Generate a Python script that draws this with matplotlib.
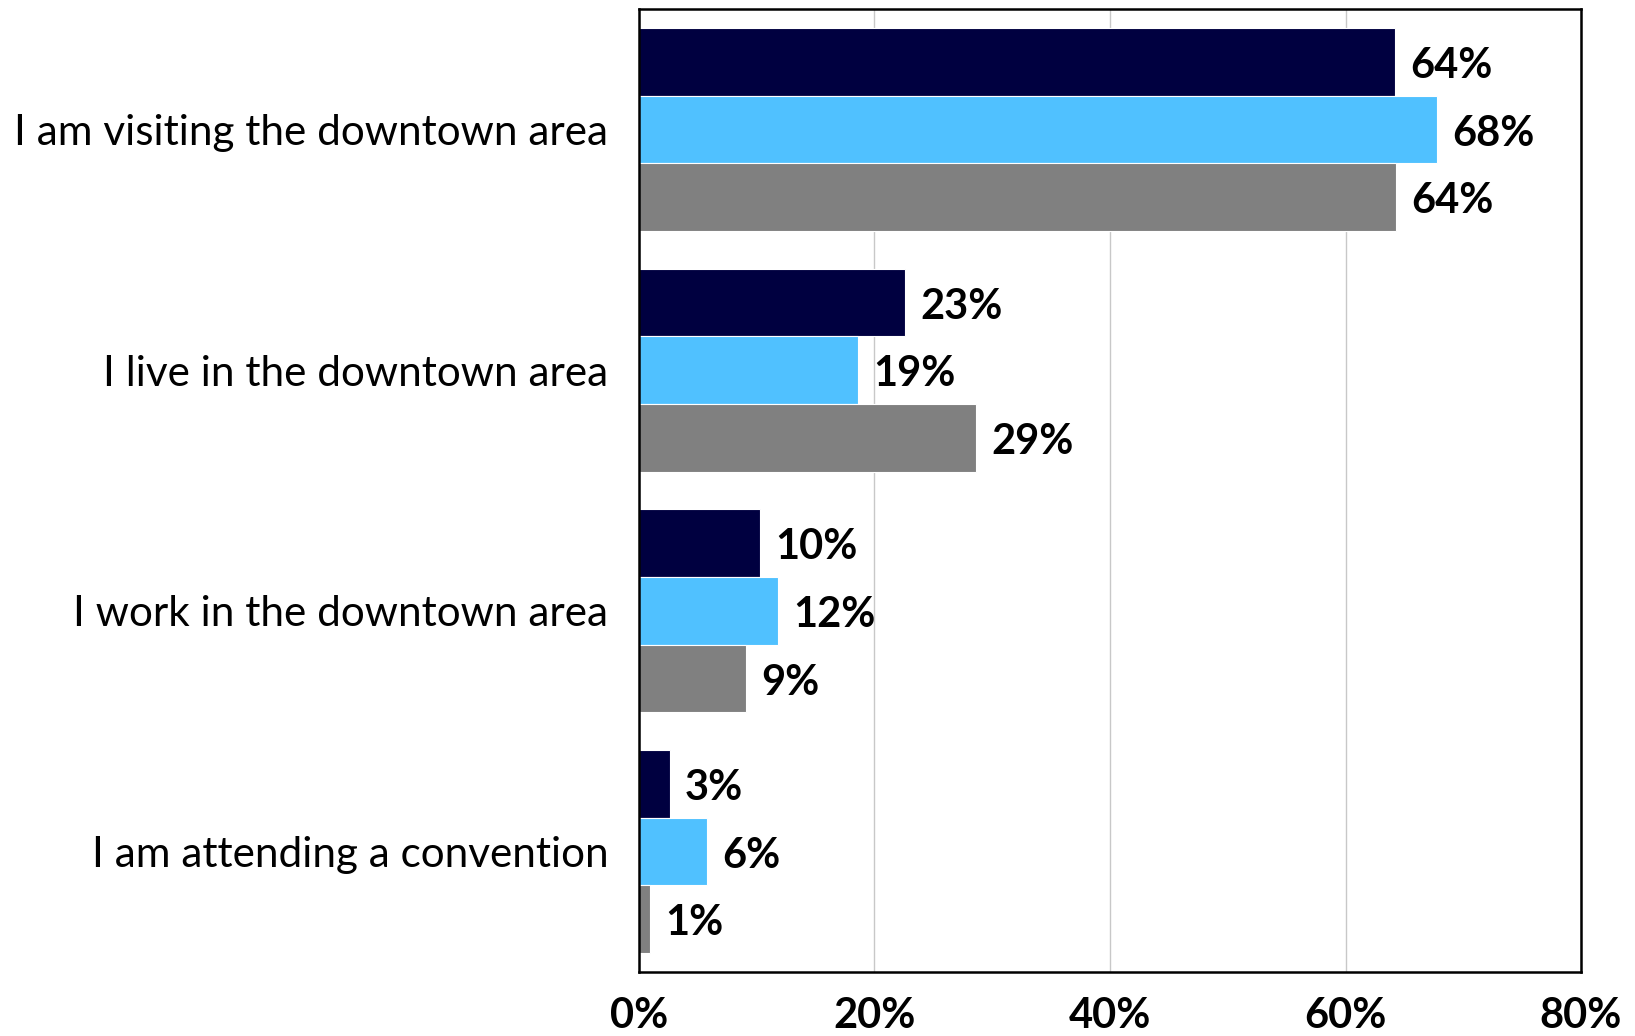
"""Horizontal grouped bar chart: reasons for being downtown."""
import matplotlib
matplotlib.use('Agg')
import matplotlib.pyplot as plt
import numpy as np

plt.rcParams['font.family'] = ['Lato', 'DejaVu Sans']

categories = [
    'I am visiting the downtown area',
    'I live in the downtown area',
    'I work in the downtown area',
    'I am attending a convention',
]
series_a = [64.2, 22.6, 10.3, 2.6]
series_b = [67.8, 18.6, 11.8, 5.8]
series_c = [64.3, 28.6, 9.1, 0.9]
colors = ['#000040', '#50C1FF', '#808080']
xticks = [0, 20, 40, 60, 80]

fig = plt.figure(figsize=(16.35, 10.36), dpi=100)
ax = fig.add_axes([0.3908, 0.0618, 0.967 - 0.3908, 0.9913 - 0.0618])

y = np.arange(len(categories))
h = 0.281
for i, (vals, col) in enumerate(zip([series_a, series_b, series_c], colors)):
    pos = y + (i - 1) * h
    ax.barh(pos, vals, height=h, color=col, edgecolor='white', linewidth=0.8, zorder=3)
    for p, v in zip(pos, vals):
        ax.annotate(f'{v:.0f}%', xy=(v, p), xytext=(11, -3), textcoords='offset points',
                    ha='left', va='center', fontsize=30, fontweight='bold', color='black')

ax.set_xlim(0, 80)
ax.set_ylim(len(categories) - 0.5, -0.5)
ax.set_xticks(xticks)
ax.set_xticklabels([f'{t}%' for t in xticks], fontsize=30, fontweight='bold')
ax.set_yticks(y)
ax.set_yticklabels(categories, fontsize=30.4)
ax.tick_params(axis='x', length=0, pad=18)
ax.tick_params(axis='y', length=0, pad=22)
ax.xaxis.grid(True, color='#c8c8c8', lw=1.0, zorder=0)
for s in ax.spines.values():
    s.set_color('black')
    s.set_linewidth(1.8)
    s.set_zorder(5)

fig.savefig('out.png', dpi=100, facecolor='white')
